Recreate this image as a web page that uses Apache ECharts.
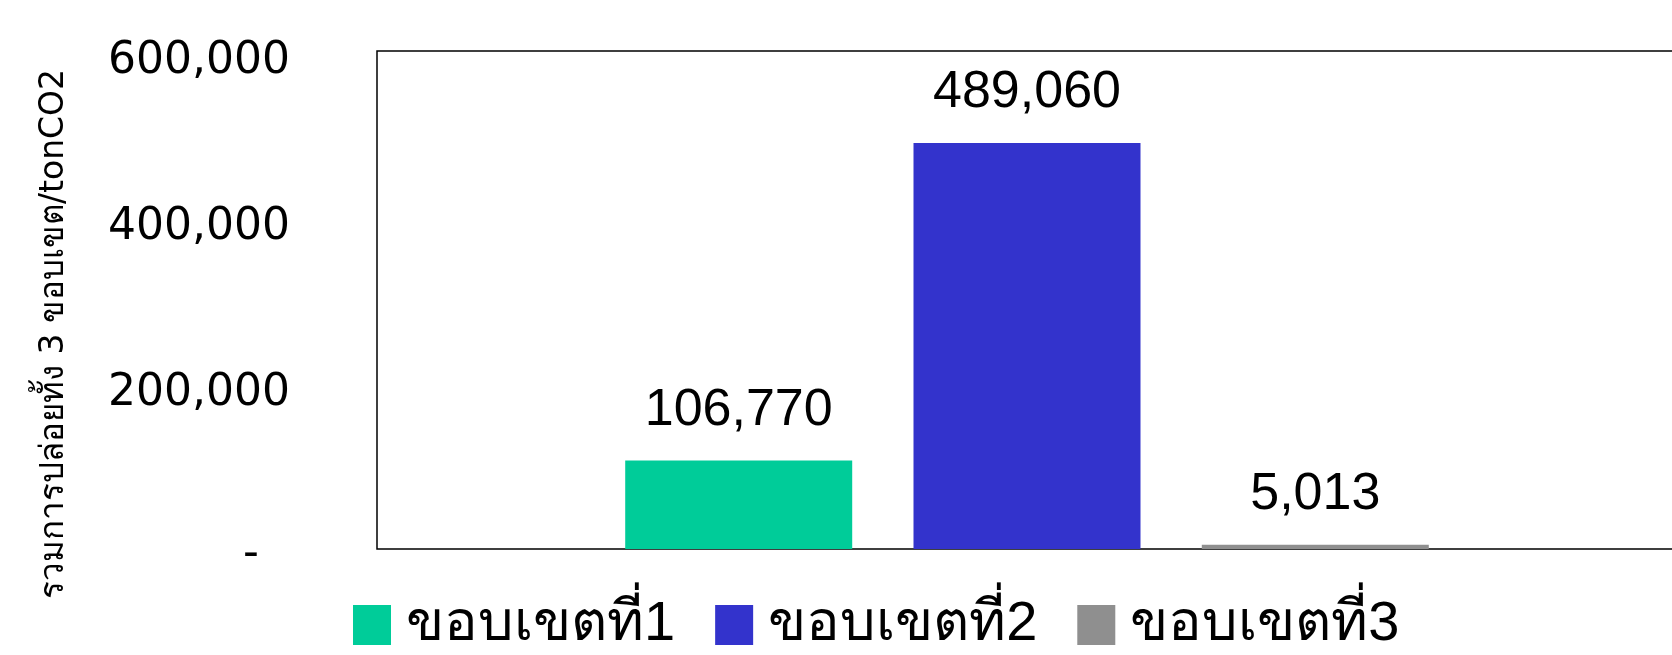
<!DOCTYPE html>
<html>
<head>
<meta charset="utf-8">
<script src="https://cdn.jsdelivr.net/npm/echarts@6/dist/echarts.min.js"></script>
<style>
  html, body { margin: 0; padding: 0; background: #fff; }
  #chart { width: 1672px; height: 655px; }
</style>
</head>
<body>
<div id="chart"></div>
<script>
// ข้อมูล
const categories = ['รวม']
const seriesNames = ['ขอบเขตที่1', 'ขอบเขตที่2', 'ขอบเขตที่3']
const scope1 = [106770]
const scope2 = [489060]
const scope3 = [5013]
const yTicks = [0, 200000, 400000, 600000]
const colors = ['#00cc99', '#3333cc', '#8f8f8f']

const seriesData = [scope1, scope2, scope3]

const chart = echarts.init(document.getElementById('chart'))

const fmt = v => v.toString().replace(/\B(?=(\d{3})+(?!\d))/g, ',')

chart.setOption({
  animation: false,
  textStyle: { fontFamily: 'DejaVu Sans, sans-serif' },
  grid: {
    show: true,
    left: 377,
    width: 1300, // ขอบขวาล้นออกนอกภาพ
    top: 51,
    bottom: 106,
    outerBoundsMode: 'none',
    borderColor: '#000',
    borderWidth: 1.5,
  },
  legend: {
    bottom: -3,
    left: 348,
    icon: 'rect',
    itemWidth: 38,
    itemHeight: 40,
    itemGap: 40,
    textStyle: {
      fontSize: 56,
      color: '#000',
      padding: [0, 0, 0, 10],
      fontFamily: 'Liberation Sans Narrow, sans-serif',
    },
  },
  xAxis: {
    type: 'category',
    data: categories,
    axisLine: { show: false },
    axisTick: { show: false },
    axisLabel: { show: false },
  },
  yAxis: {
    type: 'value',
    min: yTicks[0],
    max: yTicks[yTicks.length - 1],
    interval: yTicks[1] - yTicks[0],
    name: 'รวมการปล่อยทั้ง 3 ขอบเขต/tonCO2',
    nameLocation: 'middle',
    nameGap: 306,
    nameRotate: 90,
    nameTextStyle: {
      fontSize: 33,
      color: '#000',
      padding: [0, 68, 0, 0],
      fontFamily: 'DejaVu Sans, sans-serif',
    },
    axisLine: { show: false },
    axisTick: { show: false },
    splitLine: { show: false },
    axisLabel: {
      margin: 87,
      fontSize: 44,
      color: '#000',
      padding: [22, 0, 0, 0],
      formatter: v => (v === 0 ? '{dash|-}' : fmt(v)),
      rich: { dash: { fontSize: 44, padding: [0, 31, 10, 0] } },
    },
  },
  series: seriesData.map((d, i) => ({
    name: seriesNames[i],
    type: 'bar',
    data: d,
    barWidth: 227,
    barGap: '27%',
    itemStyle: { color: colors[i] },
    label: {
      show: true,
      position: 'top',
      distance: 24,
      fontSize: 52,
      color: '#000',
      fontFamily: 'Liberation Sans Narrow, sans-serif',
      formatter: p => fmt(p.value),
    },
  })),
})
</script>
</body>
</html>
